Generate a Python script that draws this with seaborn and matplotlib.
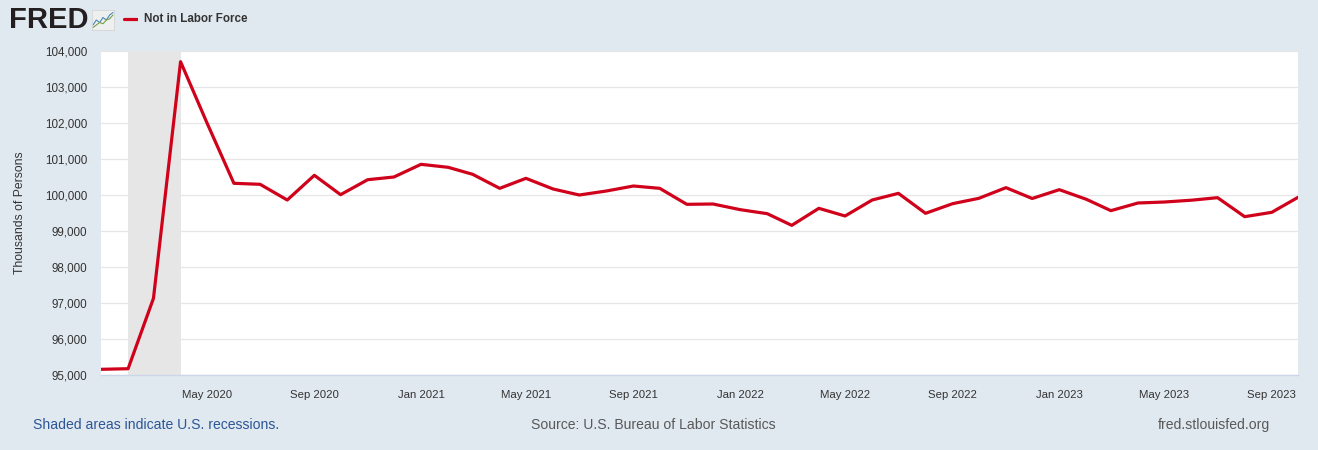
import numpy as np
import pandas as pd
import matplotlib.pyplot as plt
import matplotlib.dates as mdates
import matplotlib.ticker as mticker
import seaborn as sns

# ----- DATA (thousands of persons, monthly) ---------------|
start_month = '2020-01-01'
not_in_labor_force = [
    95158, 95175, 97130, 103703, 102014, 100325, 100297, 99861, 100547, 100009,
    100425, 100500, 100852, 100769, 100575, 100185, 100463, 100167, 100000, 100111,
    100250, 100185, 99741, 99750, 99593, 99481, 99157, 99630, 99417, 99861,
    100046, 99491, 99759, 99908, 100204, 99903, 100148, 99880, 99565, 99778,
    99805, 99855, 99926, 99398, 99519, 99935,
]
recession_start = '2020-02-01'
recession_end = '2020-04-01'
y_ticks = list(range(95000, 104001, 1000))
series_name = 'Not in Labor Force'
y_label = 'Thousands of Persons'
footer_left = 'Shaded areas indicate U.S. recessions.'
footer_mid = 'Source: U.S. Bureau of Labor Statistics'
footer_right = 'fred.stlouisfed.org'
# little logo chart
logo_blue = [1, 3, 2, 4, 3, 5, 6]
logo_green = [0, 1, 2, 1.5, 3, 3.5, 5]

dates = pd.date_range(start_month, periods=len(not_in_labor_force), freq='MS')
df = pd.DataFrame({'date': dates, 'value': not_in_labor_force})

# ----- STYLE ---------------|
BG = '#e1e9f0'
RED = '#d0021b'
TXT = '#333333'
sns.set_style('white')
plt.rcParams['font.family'] = ['Liberation Sans', 'DejaVu Sans']

fig = plt.figure(figsize=(13.18, 4.5), dpi=100, facecolor=BG)
ax = fig.add_axes([101 / 1318, 1 - 375 / 450, 1197 / 1318, 324 / 450])
ax.set_facecolor('white')

ax.axvspan(pd.Timestamp(recession_start), pd.Timestamp(recession_end),
           color='#e6e6e6', lw=0, zorder=0)
sns.lineplot(data=df, x='date', y='value', ax=ax, color=RED, lw=2.3,
             zorder=3, legend=False)

ax.set_xlim(dates[0], dates[-1])
ax.set_ylim(y_ticks[0], y_ticks[-1])
ax.set_yticks(y_ticks)
ax.yaxis.set_major_formatter(mticker.FuncFormatter(lambda v, p: f'{int(v):,}'))
ax.grid(axis='y', color='#e6e6e6', lw=0.9)
ax.grid(axis='x', visible=False)

ax.xaxis.set_major_locator(mdates.MonthLocator(bymonth=[1, 5, 9]))
ax.xaxis.set_major_formatter(mdates.DateFormatter('%b %Y'))
# drop Jan 2020 (sits on the left edge)
ax.set_xticks([d for d in ax.get_xticks() if d > mdates.date2num(dates[1])])

ax.tick_params(axis='x', length=8, width=1, color='#ccd6eb', pad=3,
               labelsize=8.2, labelcolor=TXT)
ax.tick_params(axis='y', length=0, pad=10, labelsize=8.4, labelcolor=TXT)
for s in ['top', 'right', 'left']:
    ax.spines[s].set_visible(False)
ax.spines['bottom'].set_color('#ccd6eb')
ax.spines['bottom'].set_linewidth(1)
ax.set_xlabel('')
ax.set_ylabel('')

fig.text(20 / 1318, 1 - 213 / 450, y_label, rotation=90, ha='center', va='center',
         fontsize=8.8, color=TXT)

# ----- HEADER ---------------|
fig.text(9 / 1318, 1 - 20 / 450, 'FRED', fontsize=21, fontweight='heavy',
         color='#231f20', ha='left', va='center')
logo = fig.add_axes([92 / 1318, 1 - 30 / 450, 22 / 1318, 20 / 450])
logo.set_facecolor('#eef0f0')
logo.plot(logo_blue, color='#4d87b8', lw=0.8)
logo.plot(logo_green, color='#76a244', lw=0.8)
logo.set_xticks([])
logo.set_yticks([])
logo.set_ylim(-1, 7)
for s in logo.spines.values():
    s.set_color('#d0d0d0')
    s.set_linewidth(0.5)

leg = fig.add_axes([123 / 1318, 1 - 22 / 450, 15 / 1318, 6 / 450])
leg.plot([0, 1], [0, 0], color=RED, lw=2.3)
leg.axis('off')
fig.text(144 / 1318, 1 - 19 / 450, series_name, fontsize=8.4, fontweight='bold',
         color=TXT, ha='left', va='center')

# ----- FOOTER ---------------|
fig.text(33 / 1318, 1 - 425 / 450, footer_left, fontsize=10.1, color='#2c5596',
         ha='left', va='center')
fig.text(653 / 1318, 1 - 425 / 450, footer_mid, fontsize=10.1, color='#595959',
         ha='center', va='center')
fig.text(1270 / 1318, 1 - 425 / 450, footer_right, fontsize=10.1, color='#595959',
         ha='right', va='center')

fig.savefig('out.png', dpi=100, facecolor=BG)
